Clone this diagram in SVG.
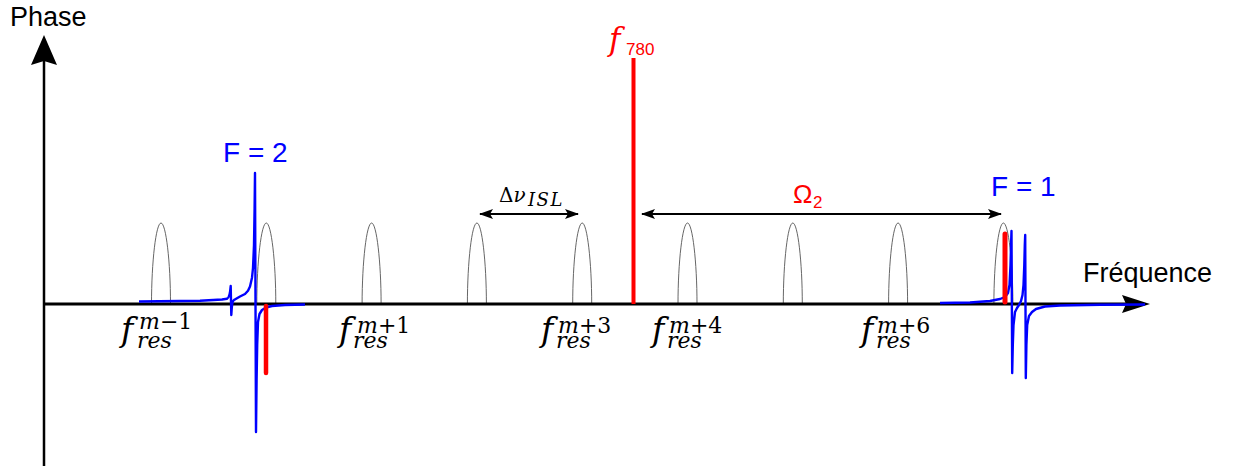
<svg xmlns="http://www.w3.org/2000/svg" width="1243" height="470" viewBox="0 0 1243 470">
<defs>
<style>
.peak{fill:none;stroke:#555;stroke-width:0.9}
.blue{fill:none;stroke:#0000ff;stroke-width:2.4;stroke-linejoin:round}
.red{stroke:#ff0000;stroke-linecap:round}
.sans{font-family:"Liberation Sans",Arial,sans-serif}
.serif{font-family:"DejaVu Serif","Liberation Serif",serif}
.it{font-style:italic}
.up{font-style:normal}
.dim{stroke:#000;stroke-width:2;fill:none}
.big{font-size:33px}
.small{font-size:22px}
</style>
<marker id="ah" viewBox="0 0 14 10" refX="13" refY="5" markerWidth="14" markerHeight="10" markerUnits="userSpaceOnUse" orient="auto-start-reverse">
<path d="M0,0 L14,5 L0,10 L3,5 Z" fill="#000"/>
</marker>
</defs>
<rect width="1243" height="470" fill="#fff"/>

<g id="peaks">
<path class="peak" d="M151.5,304 C151.5,262 156,223 161,223 C166,223 170.5,262 170.5,304"/>
<path class="peak" d="M256.8,304 C256.8,262 261.3,223 266.3,223 C271.3,223 275.8,262 275.8,304"/>
<path class="peak" d="M362.1,304 C362.1,262 366.6,223 371.6,223 C376.6,223 381.1,262 381.1,304"/>
<path class="peak" d="M467.4,304 C467.4,262 471.9,223 476.9,223 C481.9,223 486.4,262 486.4,304"/>
<path class="peak" d="M572.7,304 C572.7,262 577.2,223 582.2,223 C587.2,223 591.7,262 591.7,304"/>
<path class="peak" d="M678,304 C678,262 682.5,223 687.5,223 C692.5,223 697,262 697,304"/>
<path class="peak" d="M783.3,304 C783.3,262 787.8,223 792.8,223 C797.8,223 802.3,262 802.3,304"/>
<path class="peak" d="M888.6,304 C888.6,262 893.1,223 898.1,223 C903.1,223 907.6,262 907.6,304"/>
<path class="peak" d="M993.9,304 C993.9,262 998.4,223 1003.4,223 C1008.4,223 1012.9,262 1012.9,304"/>
</g>

<g id="axes">
<line x1="44" y1="466" x2="44" y2="60" stroke="#000" stroke-width="2.5"/>
<path d="M44,35 L57,65 L44,61 L31,65 Z" fill="#000"/>
<line x1="44" y1="304" x2="1128" y2="304" stroke="#000" stroke-width="3"/>
<path d="M1150,304 L1122,313 L1126,304 L1122,295 Z" fill="#000"/>
<text class="sans" x="10" y="26" font-size="27">Phase</text>
<text class="sans" x="1083" y="282" font-size="27">Fréquence</text>
</g>

<g id="resonance-F2">
<path class="blue" d="M139,301.5 L200,300.7 L222,299.5 L227,298.8 C229,298 230,295 230.7,286 L231.3,315 C231.8,305 232.5,300.5 234,300 L240,296.5 L245,294 L248,290.7 L250,286.5 L252,277.7 L253,268 L254,245 L254.6,208 L255,173 L256,432 L256.6,380 L257.2,345 L258,322 L259.5,314 L262,310 L266,307.5 L272,306 L285,305 L305,304.5"/>
<line class="red" x1="266" y1="306" x2="266" y2="373" stroke-width="4.5"/>
<text class="sans" x="223" y="162" font-size="28" fill="#0000ff">F = 2</text>
</g>

<g id="resonance-F1">
<path class="blue" d="M940,303 L970,302.5 L990,301 L1000,299 L1005,297 L1008,293 L1009.5,285 L1010.5,265 L1011.2,240 L1011.5,231 L1012.2,373 L1012.8,345 L1013.5,325 L1015,312 L1017,308 L1019,305 L1021,301 L1022.5,295 L1023.5,285 L1024.3,265 L1024.8,245 L1025.2,235 L1025.8,378 L1026.4,345 L1027.2,325 L1029,316 L1032,312 L1036,309 L1045,306.5 L1060,305.5 L1100,304.8 L1145,304.5"/>
<line class="red" x1="1005" y1="234" x2="1005" y2="302" stroke-width="5"/>
<text class="sans" x="991" y="196" font-size="28" fill="#0000ff">F = 1</text>
</g>

<g id="f780">
<line x1="633.5" y1="58" x2="633.5" y2="304" stroke="#ff0000" stroke-width="4"/>
<text x="609" y="50" fill="#ff0000"><tspan class="serif it" font-size="31">f</tspan><tspan class="sans" x="626" y="55" font-size="17">780</tspan></text>
</g>

<g id="connectors">
<line class="dim" x1="480" y1="214" x2="578" y2="214" marker-start="url(#ah)" marker-end="url(#ah)"/>
<line class="dim" x1="642" y1="214" x2="1001" y2="214" marker-start="url(#ah)" marker-end="url(#ah)"/>
</g>

<g id="label-isl">
<text x="499" y="202" font-size="20" class="serif"><tspan>Δ</tspan><tspan class="it">ν</tspan><tspan class="it" x="528" y="206" font-size="18" letter-spacing="1.5">ISL</tspan></text>
</g>

<g id="label-omega">
<text x="793" y="203" fill="#ff0000" class="sans" font-size="26">Ω<tspan x="813" y="208" font-size="17">2</tspan></text>
</g>

<g id="label-m-1">
<text class="serif it"><tspan class="big" x="121" y="341">f</tspan><tspan class="small" x="139" y="329">m</tspan><tspan class="small up">−1</tspan><tspan class="small" x="137" y="348">res</tspan></text>
</g>
<g id="label-m+1">
<text class="serif it"><tspan class="big" x="339" y="341">f</tspan><tspan class="small" x="357" y="333">m</tspan><tspan class="small up">+1</tspan><tspan class="small" x="353" y="348">res</tspan></text>
</g>
<g id="label-m+3">
<text class="serif it"><tspan class="big" x="541" y="341">f</tspan><tspan class="small" x="558" y="333">m</tspan><tspan class="small up">+3</tspan><tspan class="small" x="556" y="348">res</tspan></text>
</g>
<g id="label-m+4">
<text class="serif it"><tspan class="big" x="652" y="341">f</tspan><tspan class="small" x="669" y="333">m</tspan><tspan class="small up">+4</tspan><tspan class="small" x="667" y="348">res</tspan></text>
</g>
<g id="label-m+6">
<text class="serif it"><tspan class="big" x="861" y="341">f</tspan><tspan class="small" x="877" y="333">m</tspan><tspan class="small up">+6</tspan><tspan class="small" x="876" y="348">res</tspan></text>
</g>
</svg>
